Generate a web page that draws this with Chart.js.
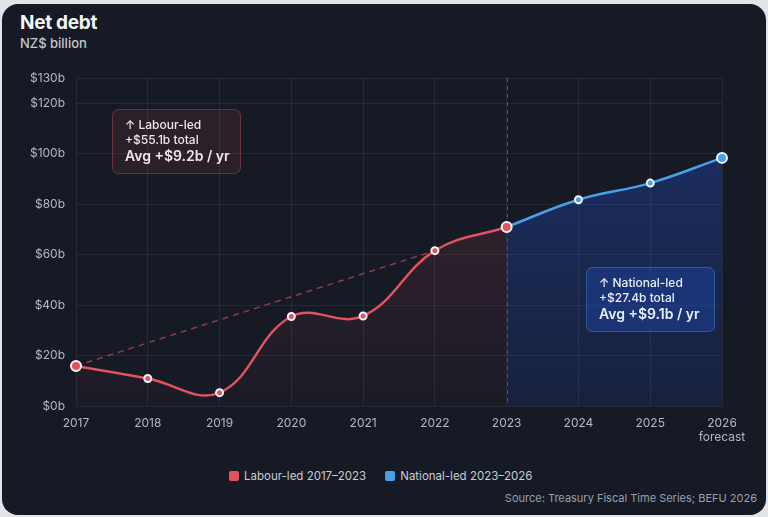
<!DOCTYPE html>
<html>
<head>
<meta charset="utf-8">
<script src="https://cdn.jsdelivr.net/npm/chart.js@4.4.1/dist/chart.umd.min.js"></script>
<style>
  html, body { margin: 0; padding: 0; width: 768px; height: 517px; overflow: hidden; background: #e3e4e7; font-family: Inter, "Noto Sans", sans-serif; }
  .card { position: absolute; left: 2px; top: 4px; width: 764px; height: 511px; border-radius: 16px; background: #151a25; }
  .title { position: absolute; left: 20px; top: 13px; font-size: 19px; line-height: 1; font-weight: 700; color: #f4f5f7; letter-spacing: -0.3px; }
  .subtitle { position: absolute; left: 20px; top: 37px; font-size: 13px; line-height: 1; font-weight: 500; color: #c3c7cf; }
  .chartbox { position: absolute; left: 0; top: 60px; width: 768px; height: 390px; }
  .legend { position: absolute; left: 229px; top: 469px; display: flex; align-items: center; font-size: 11.5px; line-height: 14px; color: #c8ccd4; }
  .legend .item { display: flex; align-items: center; margin-right: 19px; }
  .legend .sw { width: 10px; height: 10px; border-radius: 2px; margin-right: 5px; }
  .source { position: absolute; right: 11px; top: 491px; font-size: 11px; line-height: 14px; color: #9aa0ab; }
</style>
</head>
<body>
<div class="card"></div>
<div class="title">Net debt</div>
<div class="subtitle">NZ$ billion</div>
<div class="chartbox"><canvas id="c" width="768" height="390"></canvas></div>
<div class="legend" id="legend"></div>
<div class="source">Source: Treasury Fiscal Time Series; BEFU 2026</div>
<script>
// ---- Data ----
const years = ['2017','2018','2019','2020','2021','2022','2023','2024','2025','2026'];
const yearSubLabels = ['','','','','','','','','','forecast'];
const labourDebt   = [15.9, 10.9, 5.3, 35.5, 35.7, 61.6, 71.0, null, null, null];
const nationalDebt = [null, null, null, null, null, null, 71.0, 81.8, 88.4, 98.4];
const labourTrend  = [15.9, null, null, null, null, 61.6, null, null, null, null];
const yTickValues  = [0, 20, 40, 60, 80, 100, 120, 130];
const seriesNames  = ['Labour-led 2017–2023', 'National-led 2023–2026'];
const splitYear    = '2023';
const labourNote   = ['↑ Labour-led', '+$55.1b total', 'Avg +$9.2b / yr'];
const nationalNote = ['↑ National-led', '+$27.4b total', 'Avg +$9.1b / yr'];

const RED = '#e0535f';
const BLUE = '#4aa0e8';

Chart.defaults.font.family = 'Inter, "Noto Sans", sans-serif';

function vGrad(ctx, area, stops) {
  const g = ctx.createLinearGradient(0, area.top, 0, area.bottom);
  stops.forEach(s => g.addColorStop(s[0], s[1]));
  return g;
}

function roundRect(ctx, x, y, w, h, r) {
  ctx.beginPath();
  ctx.moveTo(x + r, y);
  ctx.lineTo(x + w - r, y);
  ctx.arcTo(x + w, y, x + w, y + r, r);
  ctx.lineTo(x + w, y + h - r);
  ctx.arcTo(x + w, y + h, x + w - r, y + h, r);
  ctx.lineTo(x + r, y + h);
  ctx.arcTo(x, y + h, x, y + h - r, r);
  ctx.lineTo(x, y + r);
  ctx.arcTo(x, y, x + r, y, r);
  ctx.closePath();
}

function drawNote(ctx, x, y, lines, fill, stroke, color) {
  const w = 128, h = 64;
  roundRect(ctx, x + 0.5, y + 0.5, w, h, 6);
  ctx.fillStyle = fill;
  ctx.fill();
  ctx.strokeStyle = stroke;
  ctx.lineWidth = 1;
  ctx.stroke();
  ctx.fillStyle = color;
  ctx.textAlign = 'left';
  ctx.textBaseline = 'alphabetic';
  ctx.font = '500 12px Inter, "Noto Sans", sans-serif';
  ctx.fillText(lines[0], x + 13, y + 19.5);
  ctx.fillText(lines[1], x + 13, y + 35);
  ctx.font = '600 14px Inter, "Noto Sans", sans-serif';
  ctx.fillText(lines[2], x + 13, y + 51.5);
}

const overlayPlugin = {
  id: 'overlay',
  beforeDatasetsDraw(chart) {
    const { ctx, chartArea: a, scales: { x } } = chart;
    const px = Math.round(x.getPixelForValue(years.indexOf(splitYear))) + 0.5;
    ctx.save();
    ctx.setLineDash([4, 4]);
    ctx.strokeStyle = 'rgba(150,160,185,0.45)';
    ctx.lineWidth = 1;
    ctx.beginPath();
    ctx.moveTo(px, a.top);
    ctx.lineTo(px, a.bottom);
    ctx.stroke();
    ctx.restore();
  },
  afterDatasetsDraw(chart) {
    const { ctx, scales: { x, y } } = chart;
    ctx.save();
    drawNote(ctx, Math.round(x.getPixelForValue(0.5)), Math.round(y.getPixelForValue(117.7)), labourNote,
      'rgba(224,83,95,0.11)', 'rgba(224,83,95,0.38)', '#f3e4e7');
    drawNote(ctx, Math.round(x.getPixelForValue(7.105)), Math.round(y.getPixelForValue(55.3)), nationalNote,
      'rgba(30,66,160,0.5)', 'rgba(74,160,232,0.42)', '#e8effc');
    ctx.restore();
  }
};

const chart = new Chart(document.getElementById('c'), {
  type: 'line',
  data: {
    labels: years,
    datasets: [
      {
        label: seriesNames[0],
        data: labourDebt,
        borderColor: RED,
        borderWidth: 2.5,
        tension: 0.4,
        fill: 'origin',
        backgroundColor: (c) => {
          const a = c.chart.chartArea;
          if (!a) return 'rgba(224,83,95,0.08)';
          return vGrad(c.chart.ctx, a, [[0, 'rgba(224,83,95,0.20)'], [1, 'rgba(224,83,95,0.03)']]);
        },
        pointBackgroundColor: RED,
        pointBorderColor: '#f4f4f6',
        pointBorderWidth: 2,
        pointRadius: (c) => (c.dataIndex === 0 || c.dataIndex === 6) ? 5 : 3.5,
        clip: false
      },
      {
        label: seriesNames[1],
        data: nationalDebt,
        borderColor: BLUE,
        borderWidth: 2.5,
        tension: 0.4,
        fill: 'origin',
        backgroundColor: (c) => {
          const a = c.chart.chartArea;
          if (!a) return 'rgba(40,85,205,0.3)';
          return vGrad(c.chart.ctx, a, [[0, 'rgba(38,80,200,0.42)'], [1, 'rgba(38,80,200,0.15)']]);
        },
        pointBackgroundColor: BLUE,
        pointBorderColor: '#f4f4f6',
        pointBorderWidth: 2,
        pointRadius: (c) => c.dataIndex === 6 ? 0 : (c.dataIndex === 9 ? 5 : 3.5),
        clip: false
      },
      {
        label: 'trend',
        data: labourTrend,
        spanGaps: true,
        borderColor: 'rgba(224,83,95,0.6)',
        borderWidth: 1.5,
        borderDash: [6, 5],
        tension: 0,
        fill: false,
        pointRadius: 0,
        clip: false
      }
    ]
  },
  options: {
    responsive: false,
    animation: false,
    layout: { padding: { top: 17, right: 46, left: 0, bottom: 0 } },
    plugins: {
      legend: { display: false },
      tooltip: { enabled: false },
      title: { display: false }
    },
    scales: {
      x: {
        offset: false,
        grid: { color: 'rgba(255,255,255,0.065)', drawTicks: false },
        border: { display: false },
        ticks: {
          color: '#b3b8c2',
          font: { size: 12 },
          padding: 10,
          maxRotation: 0,
          autoSkip: false,
          callback: (v, i) => yearSubLabels[i] ? [years[i], yearSubLabels[i]] : years[i]
        },
        afterFit: (s) => { s.height = 44; }
      },
      y: {
        min: 0,
        max: 130,
        grid: { color: 'rgba(255,255,255,0.065)', drawTicks: false },
        border: { display: false },
        ticks: {
          color: '#b3b8c2',
          font: { size: 12 },
          padding: 11,
          callback: (v) => '$' + v + 'b'
        },
        afterBuildTicks: (s) => { s.ticks = yTickValues.map(v => ({ value: v })); },
        afterFit: (s) => { s.width = 76; }
      }
    }
  },
  plugins: [overlayPlugin]
});

// HTML legend built from the datasets
const legendEl = document.getElementById('legend');
chart.data.datasets.slice(0, 2).forEach(ds => {
  const item = document.createElement('div');
  item.className = 'item';
  const sw = document.createElement('span');
  sw.className = 'sw';
  sw.style.background = ds.borderColor;
  const tx = document.createElement('span');
  tx.textContent = ds.label;
  item.appendChild(sw);
  item.appendChild(tx);
  legendEl.appendChild(item);
});
</script>
</body>
</html>
